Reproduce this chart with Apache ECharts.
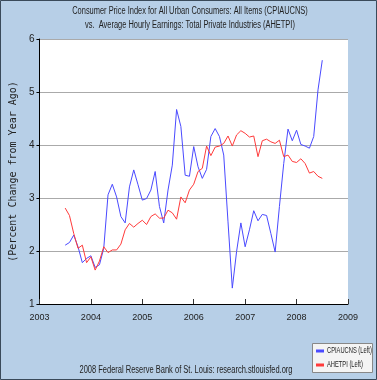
<!DOCTYPE html>
<html>
<head>
<meta charset="utf-8">
<script src="https://cdn.jsdelivr.net/npm/echarts@6/dist/echarts.min.js"></script>
<style>
html,body{margin:0;padding:0;background:#b7cfe7;}
#c{width:377px;height:380px;}
</style>
</head>
<body>
<div id="c"></div>
<script>
// Monthly observations, Jul 2003 .. Jul 2008
const startYear = 2003, startMonth = 7;
const cpiaucns = [2.11,2.16,2.30,2.08,1.78,1.86,1.91,1.69,1.74,2.05,3.06,3.26,3.02,2.65,2.53,3.21,3.53,3.25,2.96,2.99,3.15,3.50,2.84,2.53,3.15,3.62,4.67,4.35,3.43,3.41,3.97,3.59,3.37,3.54,4.16,4.31,4.16,3.81,2.55,1.30,1.99,2.53,2.08,2.40,2.76,2.57,2.69,2.67,2.33,1.98,2.84,3.65,4.30,4.08,4.28,4.01,3.98,3.94,4.16,5.04,5.60];
const ahetpi = [2.81,2.67,2.33,2.05,2.11,1.78,1.89,1.64,1.81,2.08,1.97,2.02,2.02,2.13,2.40,2.52,2.45,2.52,2.58,2.50,2.65,2.70,2.62,2.62,2.77,2.72,2.60,3.02,2.91,3.15,3.26,3.50,3.56,3.98,3.80,3.96,3.98,4.03,4.17,3.98,4.19,4.27,4.22,4.15,4.17,3.78,4.08,4.11,4.06,4.03,4.09,3.78,3.81,3.69,3.67,3.74,3.65,3.47,3.50,3.41,3.37];
const yearTicks = [2003,2004,2005,2006,2007,2008,2009];
const valueTicks = [1,2,3,4,5,6];
const seriesNames = ['CPIAUCNS (Left)','AHETPI (Left)'];
const seriesColors = ['#4a4aff','#ff3a3a'];
const titleLines = ['Consumer Price Index for All Urban Consumers: All Items (CPIAUCNS)', 'vs.  Average Hourly Earnings: Total Private Industries (AHETPI)'];
const yName = '(Percent Change from Year Ago)';
const footer = '2008 Federal Reserve Bank of St. Louis: research.stlouisfed.org';

function dateOf(i){ const m = startMonth - 1 + i; return startYear + Math.floor(m/12) + (m%12)/12; }
const toPairs = arr => arr.map((v,i)=>[dateOf(i), v]);

const sans = '"Liberation Sans", Arial, sans-serif';
function squeezed(text, cx, cy, size, sx){
  return {type:'text', x:cx, y:cy, scaleX:sx, z:10,
    style:{text:text, x:0, y:0, align:'center', verticalAlign:'middle', font:size+'px "Liberation Sans", Arial, sans-serif', fill:'#222'}};
}
const legendItems = [];
seriesNames.forEach((n,i)=>{
  const y = 351 + i*14;
  legendItems.push({type:'rect', shape:{x:316, y:y-1.5, width:8, height:3}, style:{fill:seriesColors[i]}, z:11});
  legendItems.push({type:'text', x:327, y:y, scaleX:0.64, z:11,
    style:{text:n, x:0, y:0, align:'left', verticalAlign:'middle', font:'9px "Liberation Sans", Arial, sans-serif', fill:'#222'}});
});

const chart = echarts.init(document.getElementById('c'), null, {renderer:'canvas'});
chart.setOption({
  animation:false,
  backgroundColor:'#b7cfe7',
  graphic:[
    {type:'rect', shape:{x:0.5, y:0.5, width:376, height:379}, style:{fill:null, stroke:'#3a4a5a', lineWidth:1}, z:0},
    squeezed(titleLines[0], 190, 11, 10, 0.745),
    squeezed(titleLines[1], 190, 25, 10, 0.745),
    squeezed(footer, 186, 370, 10, 0.75),
    {type:'rect', shape:{x:312.5, y:343.5, width:60, height:29}, style:{fill:'#f4f4f4', stroke:'#888', lineWidth:1}, z:10},
  ].concat(legendItems),
  grid:{left:29, right:29, top:39, bottom:76, show:true, backgroundColor:'#fff', borderWidth:0},
  xAxis:{
    type:'value', min:yearTicks[0], max:yearTicks[yearTicks.length-1], interval:1,
    axisLine:{lineStyle:{color:'#000', width:1}},
    axisTick:{inside:true, length:5, lineStyle:{color:'#333'}},
    axisLabel:{fontFamily:sans, fontSize:9, color:'#222', margin:9, formatter:v=>String(v)},
    splitLine:{show:false}
  },
  yAxis:{
    type:'value', min:valueTicks[0], max:valueTicks[valueTicks.length-1], interval:1,
    name:yName, nameLocation:'middle', nameGap:14, nameRotate:90,
    nameTextStyle:{fontFamily:'"DejaVu Sans Mono", monospace', fontSize:10, color:'#222'},
    axisLine:{show:true, lineStyle:{color:'#000', width:1}},
    axisTick:{show:true, length:3, lineStyle:{color:'#000'}},
    axisLabel:{fontFamily:sans, fontSize:10, color:'#222', margin:5},
    splitLine:{show:true, lineStyle:{color:'#aaa', width:1}}
  },
  series:[
    {name:seriesNames[0], type:'line', data:toPairs(cpiaucns), showSymbol:false, lineStyle:{color:seriesColors[0], width:1}, itemStyle:{color:seriesColors[0]}},
    {name:seriesNames[1], type:'line', data:toPairs(ahetpi), showSymbol:false, lineStyle:{color:seriesColors[1], width:1}, itemStyle:{color:seriesColors[1]}}
  ]
});
</script>
</body>
</html>
